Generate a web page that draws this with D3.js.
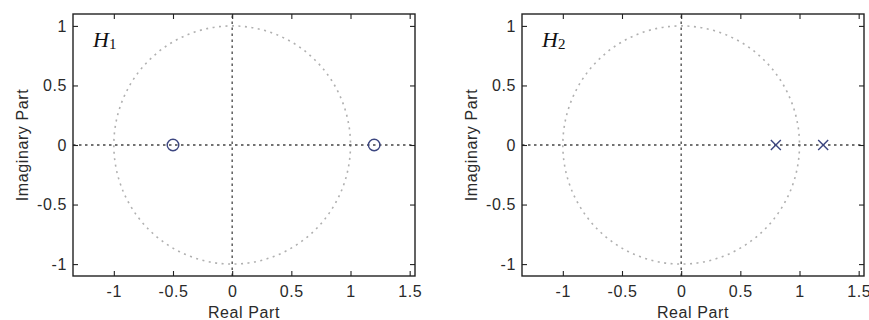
<!DOCTYPE html>
<html>
<head>
<meta charset="utf-8">
<script src="https://cdn.jsdelivr.net/npm/d3@7"></script>
<style>
  html, body { margin: 0; padding: 0; background: #fff; }
  svg { display: block; }
  .tick-label, .axis-title { font-family: "Liberation Sans", Arial, Helvetica, sans-serif; fill: #2a2a2a; letter-spacing: 0.6px; }
</style>
</head>
<body>
<svg id="chart" width="869" height="320"></svg>
<script>
// Pole-zero plots of two systems H1 (zeros) and H2 (poles)
const xTicks = [-1, -0.5, 0, 0.5, 1, 1.5];
const yTicks = [-1, -0.5, 0, 0.5, 1];
const xDomain = [-1.345, 1.545];
const yDomain = [-1.1, 1.1];

const h1ZerosRe = [-0.5, 1.2];
const h1ZerosIm = [0, 0];
const h2PolesRe = [0.8, 1.2];
const h2PolesIm = [0, 0];

const panelNames = ["H", "H"];
const panelSubs = ["1", "2"];
const xLabel = "Real Part";
const yLabel = "Imaginary Part";

const svg = d3.select("#chart");
const markColor = "#3c4680";

const panels = [
  { left: 73, name: panelNames[0], sub: panelSubs[0], re: h1ZerosRe, im: h1ZerosIm, kind: "zero" },
  { left: 522, name: panelNames[1], sub: panelSubs[1], re: h2PolesRe, im: h2PolesIm, kind: "pole" }
];
const plotTop = 14, plotBottom = 276, plotWidth = 342;

panels.forEach(p => {
  const x = d3.scaleLinear().domain(xDomain).range([p.left, p.left + plotWidth]);
  const y = d3.scaleLinear().domain(yDomain).range([plotBottom, plotTop]);
  const g = svg.append("g");

  // unit circle
  g.append("ellipse")
    .attr("cx", x(0)).attr("cy", y(0))
    .attr("rx", x(1) - x(0)).attr("ry", y(0) - y(1))
    .attr("fill", "none").attr("stroke", "#b0b0b0")
    .attr("stroke-width", 1.6).attr("stroke-dasharray", "2,4.5");

  // real and imaginary axes
  g.append("line")
    .attr("x1", x(xDomain[0])).attr("x2", x(xDomain[1]))
    .attr("y1", y(0)).attr("y2", y(0))
    .attr("stroke", "#444").attr("stroke-width", 1.3).attr("stroke-dasharray", "2.5,3.5");
  g.append("line")
    .attr("x1", x(0)).attr("x2", x(0))
    .attr("y1", y(yDomain[0])).attr("y2", y(yDomain[1]))
    .attr("stroke", "#444").attr("stroke-width", 1.3).attr("stroke-dasharray", "2.5,3.5");

  // axes with inward ticks on all four sides
  const tickLen = 5;
  const axB = d3.axisBottom(x).tickValues(xTicks).tickSize(-tickLen).tickFormat(d => String(d));
  const axT = d3.axisTop(x).tickValues(xTicks).tickSize(-tickLen).tickFormat("");
  const axL = d3.axisLeft(y).tickValues(yTicks).tickSize(-tickLen).tickFormat(d => String(d));
  const axR = d3.axisRight(y).tickValues(yTicks).tickSize(-tickLen).tickFormat("");

  const styleAxis = sel => {
    sel.select(".domain").remove();
    sel.selectAll(".tick line").attr("stroke", "#222").attr("stroke-width", 1.1);
    sel.selectAll(".tick text").attr("class", "tick-label").attr("font-size", 16).attr("fill", "#2a2a2a");
  };
  g.append("g").attr("transform", `translate(0,${plotBottom})`).call(axB).call(styleAxis)
    .selectAll(".tick text").attr("dy", "0.71em").attr("y", 10);
  g.append("g").attr("transform", `translate(0,${plotTop})`).call(axT).call(styleAxis);
  g.append("g").attr("transform", `translate(${p.left},0)`).call(axL).call(styleAxis)
    .selectAll(".tick text").attr("x", -6);
  g.append("g").attr("transform", `translate(${p.left + plotWidth},0)`).call(axR).call(styleAxis);

  // box
  g.append("rect")
    .attr("x", p.left).attr("y", plotTop).attr("width", plotWidth).attr("height", plotBottom - plotTop)
    .attr("fill", "none").attr("stroke", "#222").attr("stroke-width", 1.4);

  // markers
  const pts = p.re.map((r, i) => ({ re: r, im: p.im[i] }));
  if (p.kind === "zero") {
    g.selectAll("circle.mk").data(pts).enter().append("circle")
      .attr("class", "mk")
      .attr("cx", d => x(d.re)).attr("cy", d => y(d.im)).attr("r", 5.8)
      .attr("fill", "none").attr("stroke", markColor).attr("stroke-width", 1.4);
  } else {
    const s = 5;
    g.selectAll("path.mk").data(pts).enter().append("path")
      .attr("class", "mk")
      .attr("d", d => {
        const cx = x(d.re), cy = y(d.im);
        return `M${cx - s},${cy - s}L${cx + s},${cy + s}M${cx - s},${cy + s}L${cx + s},${cy - s}`;
      })
      .attr("fill", "none").attr("stroke", markColor).attr("stroke-width", 1.4);
  }

  // panel name
  const t = g.append("text")
    .attr("x", p.left + 20).attr("y", 47)
    .attr("font-family", "'Liberation Serif', 'Times New Roman', serif")
    .attr("font-style", "italic").attr("font-size", 22).attr("fill", "#111");
  t.append("tspan").text(p.name);
  t.append("tspan").attr("font-size", 15).attr("font-style", "normal").attr("dy", 2).text(p.sub);

  // axis titles
  g.append("text").attr("class", "axis-title")
    .attr("x", p.left + plotWidth / 2).attr("y", 317.5)
    .attr("text-anchor", "middle").attr("font-size", 16).text(xLabel);
  g.append("text").attr("class", "axis-title")
    .attr("transform", `translate(${p.left - 45},${(plotTop + plotBottom) / 2}) rotate(-90)`)
    .attr("text-anchor", "middle").attr("font-size", 16).text(yLabel);
});
</script>
</body>
</html>
